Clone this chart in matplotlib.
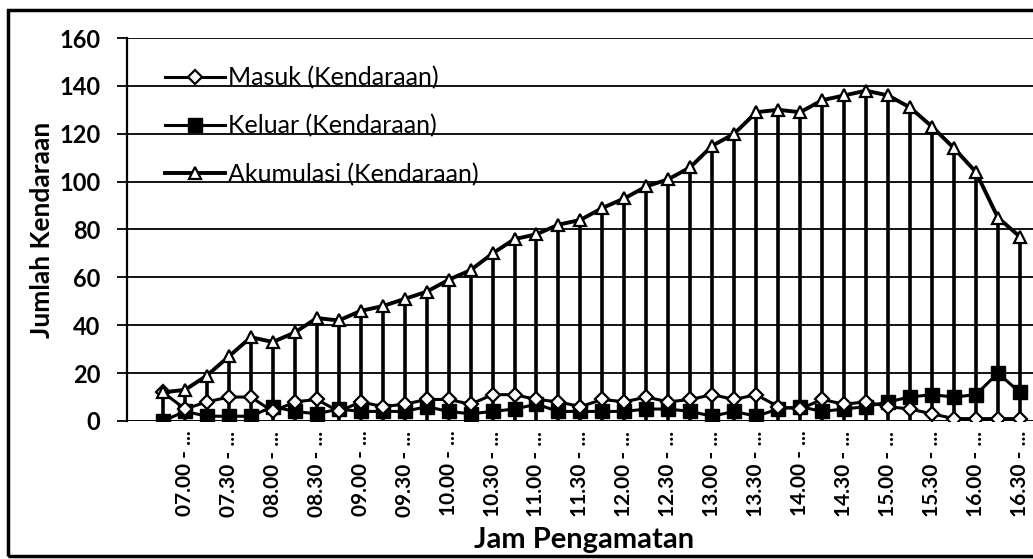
import matplotlib.pyplot as plt
from matplotlib.patches import Rectangle

# category labels (15-minute intervals, every other one is labelled)
periods = ["06.45", "07.00", "07.15", "07.30", "07.45", "08.00", "08.15", "08.30",
           "08.45", "09.00", "09.15", "09.30", "09.45", "10.00", "10.15", "10.30",
           "10.45", "11.00", "11.15", "11.30", "11.45", "12.00", "12.15", "12.30",
           "12.45", "13.00", "13.15", "13.30", "13.45", "14.00", "14.15", "14.30",
           "14.45", "15.00", "15.15", "15.30", "15.45", "16.00", "16.15", "16.30"]

masuk = [12, 5, 8, 10, 10, 4, 8, 9, 4, 8, 6, 7, 9, 9, 7, 11, 11, 9, 8, 6,
         9, 8, 10, 8, 9, 11, 9, 11, 6, 5, 9, 7, 8, 6, 5, 3, 1, 1, 1, 1]
keluar = [0, 4, 2, 2, 2, 6, 4, 3, 5, 4, 4, 4, 6, 4, 3, 4, 5, 7, 4, 4,
          4, 4, 5, 5, 4, 2, 4, 2, 5, 6, 4, 5, 6, 8, 10, 11, 10, 11, 20, 12]
akumulasi = [12, 13, 19, 27, 35, 33, 37, 43, 42, 46, 48, 51, 54, 59, 63, 70, 76, 78, 82, 84,
             89, 93, 98, 101, 106, 115, 120, 129, 130, 129, 134, 136, 138, 136, 131, 123, 114, 104, 85, 77]

x = list(range(len(periods)))
tick_pos = x[1::2]
tick_lab = [p + " - ..." for p in periods[1::2]]

plt.rcParams['font.family'] = ['Lato', 'DejaVu Sans']

W, H = 1033, 559
fig = plt.figure(figsize=(W / 100, H / 100), dpi=100)

step = 21.97
x0 = 163
xmin = (127 - x0) / step
xmax = 41.0
axw = (xmax - xmin) * step
ax = fig.add_axes([127 / W, 1 - 421 / H, axw / W, (421 - 38) / H])

ax.vlines(x, 0, akumulasi, color='black', lw=2.6, zorder=2)
ax.plot(x, keluar, color='black', lw=2.2, marker='s', ms=10, mfc='black', mec='black',
        label='Keluar (Kendaraan)', zorder=3)
ax.plot(x, masuk, color='black', lw=2.2, marker='D', ms=7, mfc='white', mec='black', mew=1.6,
        label='Masuk (Kendaraan)', zorder=4)
ax.plot(x, akumulasi, color='black', lw=2.8, marker='^', ms=8, mfc='white', mec='black', mew=1.6,
        label='Akumulasi (Kendaraan)', zorder=5)

ax.set_xlim(xmin, xmax)
ax.set_ylim(0, 160)
ax.set_yticks(range(0, 161, 20))
ax.grid(axis='y', color='black', lw=1.3)
ax.set_axisbelow(True)
for s in ['top', 'right', 'bottom']:
    ax.spines[s].set_visible(False)
ax.spines['left'].set_linewidth(1.6)
ax.axhline(0, color='black', lw=1.8, zorder=1)

ax.set_xticks(tick_pos)
ax.set_xticklabels(tick_lab, rotation=90, fontsize=15, fontweight='bold', va='top', ha='center')
ax.tick_params(axis='x', length=0, pad=7)
ax.tick_params(axis='y', length=7, width=1.3, pad=12, labelsize=17)
for t in ax.get_yticklabels():
    t.set_fontweight('bold')

ax.set_ylabel('Jumlah Kendaraan', fontsize=19, fontweight='bold', labelpad=4)
fig.text(584 / W, 1 - 548 / H, 'Jam Pengamatan', fontsize=21, fontweight='bold',
         ha='center', va='baseline')

h, l = ax.get_legend_handles_labels()
order = [1, 0, 2]
ax.legend([h[i] for i in order], [l[i] for i in order], loc='upper left',
          bbox_to_anchor=((165 - 127) / axw, (421 - 66) / 383),
          frameon=False, fontsize=18, handlelength=2.4, handletextpad=0.1,
          labelspacing=1.0, borderaxespad=0, borderpad=0)

fig.patches.append(Rectangle((8 / W, 1 - 556 / H), 1.2, 546 / H, transform=fig.transFigure,
                             fill=False, edgecolor='black', lw=2.5))

fig.savefig('out.png', dpi=100)
